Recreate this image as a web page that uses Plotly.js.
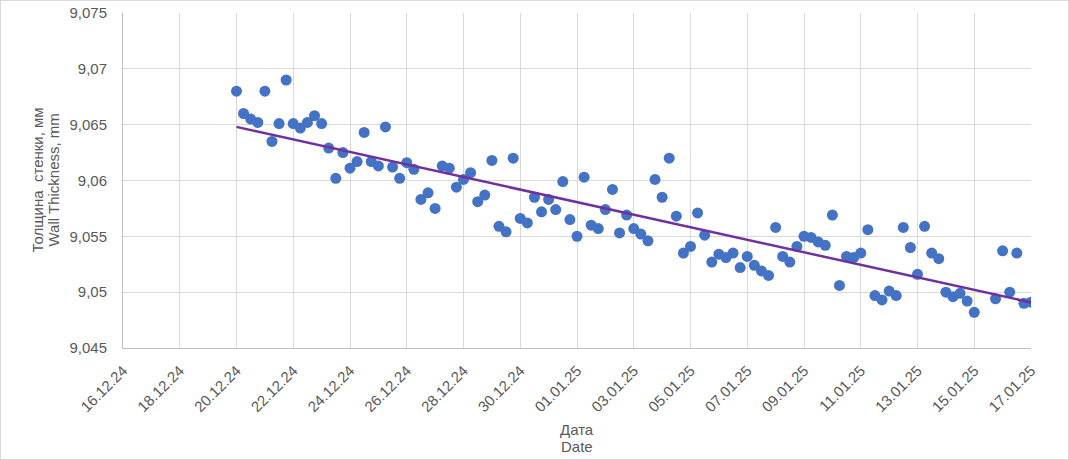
<!DOCTYPE html>
<html>
<head>
<meta charset="utf-8">
<script src="https://cdn.plot.ly/plotly-3.0.1.min.js"></script>
<style>
    body { margin: 0; background: #ffffff; }
    #canvas { width: 1069px; height: 460px; box-sizing: border-box; border: 1px solid #d9d9d9; }
</style>
</head>
<body>
<div id="canvas"></div>
<script>
// measurement times (every 6 h, two readings missing on 15.01.25)
const measureTimes = [
    "2024-12-20 00:00", "2024-12-20 06:00", "2024-12-20 12:00", "2024-12-20 18:00",
    "2024-12-21 00:00", "2024-12-21 06:00", "2024-12-21 12:00", "2024-12-21 18:00",
    "2024-12-22 00:00", "2024-12-22 06:00", "2024-12-22 12:00", "2024-12-22 18:00",
    "2024-12-23 00:00", "2024-12-23 06:00", "2024-12-23 12:00", "2024-12-23 18:00",
    "2024-12-24 00:00", "2024-12-24 06:00", "2024-12-24 12:00", "2024-12-24 18:00",
    "2024-12-25 00:00", "2024-12-25 06:00", "2024-12-25 12:00", "2024-12-25 18:00",
    "2024-12-26 00:00", "2024-12-26 06:00", "2024-12-26 12:00", "2024-12-26 18:00",
    "2024-12-27 00:00", "2024-12-27 06:00", "2024-12-27 12:00", "2024-12-27 18:00",
    "2024-12-28 00:00", "2024-12-28 06:00", "2024-12-28 12:00", "2024-12-28 18:00",
    "2024-12-29 00:00", "2024-12-29 06:00", "2024-12-29 12:00", "2024-12-29 18:00",
    "2024-12-30 00:00", "2024-12-30 06:00", "2024-12-30 12:00", "2024-12-30 18:00",
    "2024-12-31 00:00", "2024-12-31 06:00", "2024-12-31 12:00", "2024-12-31 18:00",
    "2025-01-01 00:00", "2025-01-01 06:00", "2025-01-01 12:00", "2025-01-01 18:00",
    "2025-01-02 00:00", "2025-01-02 06:00", "2025-01-02 12:00", "2025-01-02 18:00",
    "2025-01-03 00:00", "2025-01-03 06:00", "2025-01-03 12:00", "2025-01-03 18:00",
    "2025-01-04 00:00", "2025-01-04 06:00", "2025-01-04 12:00", "2025-01-04 18:00",
    "2025-01-05 00:00", "2025-01-05 06:00", "2025-01-05 12:00", "2025-01-05 18:00",
    "2025-01-06 00:00", "2025-01-06 06:00", "2025-01-06 12:00", "2025-01-06 18:00",
    "2025-01-07 00:00", "2025-01-07 06:00", "2025-01-07 12:00", "2025-01-07 18:00",
    "2025-01-08 00:00", "2025-01-08 06:00", "2025-01-08 12:00", "2025-01-08 18:00",
    "2025-01-09 00:00", "2025-01-09 06:00", "2025-01-09 12:00", "2025-01-09 18:00",
    "2025-01-10 00:00", "2025-01-10 06:00", "2025-01-10 12:00", "2025-01-10 18:00",
    "2025-01-11 00:00", "2025-01-11 06:00", "2025-01-11 12:00", "2025-01-11 18:00",
    "2025-01-12 00:00", "2025-01-12 06:00", "2025-01-12 12:00", "2025-01-12 18:00",
    "2025-01-13 00:00", "2025-01-13 06:00", "2025-01-13 12:00", "2025-01-13 18:00",
    "2025-01-14 00:00", "2025-01-14 06:00", "2025-01-14 12:00", "2025-01-14 18:00",
    "2025-01-15 00:00", "2025-01-15 18:00",
    "2025-01-16 00:00", "2025-01-16 06:00", "2025-01-16 12:00", "2025-01-16 18:00",
    "2025-01-17 00:00"
];

// wall thickness, mm
const wallThickness = [
    9.0680, 9.0660, 9.0655, 9.0652, 9.0680, 9.0635, 9.0651, 9.0690,
    9.0651, 9.0647, 9.0652, 9.0658, 9.0651, 9.0629, 9.0602, 9.0625,
    9.0611, 9.0617, 9.0643, 9.0617, 9.0613, 9.0648, 9.0612, 9.0602,
    9.0616, 9.0610, 9.0583, 9.0589, 9.0575, 9.0613, 9.0611, 9.0594,
    9.0601, 9.0607, 9.0581, 9.0587, 9.0618, 9.0559, 9.0554, 9.0620,
    9.0566, 9.0562, 9.0585, 9.0572, 9.0583, 9.0574, 9.0599, 9.0565,
    9.0550, 9.0603, 9.0560, 9.0557, 9.0574, 9.0592, 9.0553, 9.0569,
    9.0557, 9.0552, 9.0546, 9.0601, 9.0585, 9.0620, 9.0568, 9.0535,
    9.0541, 9.0571, 9.0551, 9.0527, 9.0534, 9.0531, 9.0535, 9.0522,
    9.0532, 9.0524, 9.0519, 9.0515, 9.0558, 9.0532, 9.0527, 9.0541,
    9.0550, 9.0549, 9.0545, 9.0542, 9.0569, 9.0506, 9.0532, 9.0531,
    9.0535, 9.0556, 9.0497, 9.0493, 9.0501, 9.0497, 9.0558, 9.0540,
    9.0516, 9.0559, 9.0535, 9.0530, 9.0500, 9.0496, 9.0499, 9.0492,
    9.0482, 9.0494, 9.0537, 9.0500, 9.0535, 9.0490, 9.0491
];

// axis ticks
const xTickVals = ["2024-12-16", "2024-12-18", "2024-12-20", "2024-12-22", "2024-12-24",
    "2024-12-26", "2024-12-28", "2024-12-30", "2025-01-01", "2025-01-03", "2025-01-05",
    "2025-01-07", "2025-01-09", "2025-01-11", "2025-01-13", "2025-01-15", "2025-01-17"];
const xTickText = ["16.12.24", "18.12.24", "20.12.24", "22.12.24", "24.12.24",
    "26.12.24", "28.12.24", "30.12.24", "01.01.25", "03.01.25", "05.01.25",
    "07.01.25", "09.01.25", "11.01.25", "13.01.25", "15.01.25", "17.01.25"];
const yTickVals = [9.045, 9.05, 9.055, 9.06, 9.065, 9.07, 9.075];
const yTickText = ["9,045", "9,05", "9,055", "9,06", "9,065", "9,07", "9,075"];

const xTitleLines = ["Дата", "Date"];
const yTitleLines = ["Толщина  стенки, мм", "Wall Thickness, mm"];

const FONT = "Liberation Sans, Arial, sans-serif";
const TEXT_COLOR = "#595959";

// "2024-12-20 06:00" -> hours since epoch
function toHours(s) {
    let [d, h] = s.split(" ");
    let [yy, mm, dd] = d.split("-").map(Number);
    let [hh, mi] = h.split(":").map(Number);
    return Date.UTC(yy, mm - 1, dd, hh, mi) / 3600000;
}

// linear trend (least squares over time), like the spreadsheet trendline
function linearTrend(xs, ys) {
    let t = xs.map(toHours);
    let n = Math.min(t.length, ys.length);
    let t0 = t[0];
    let mx = 0, my = 0;
    for (let i = 0; i < n; i++) { mx += t[i] - t0; my += ys[i]; }
    mx /= n; my /= n;
    let sxy = 0, sxx = 0;
    for (let i = 0; i < n; i++) {
        sxy += (t[i] - t0 - mx) * (ys[i] - my);
        sxx += (t[i] - t0 - mx) ** 2;
    }
    let k = sxy / sxx;
    let b = my - k * mx;
    return [b, k * (t[n - 1] - t0) + b];
}

let trend = linearTrend(measureTimes, wallThickness);

var getPlotData = () => [
    {
        x: measureTimes,
        y: wallThickness,
        type: "scatter",
        mode: "markers",
        marker: { color: "#4472C4", size: 11 },
    },
    {
        x: [measureTimes[0], measureTimes[measureTimes.length - 1]],
        y: trend,
        type: "scatter",
        mode: "lines",
        line: { color: "#7030A0", width: 2.5 },
    },
];

var titleFont = { family: FONT, size: 15, color: TEXT_COLOR };

var getAnnotations = () => [
    // x title, two lines below the tick labels
    { text: xTitleLines[0], xref: "paper", yref: "paper", x: 0.5, y: 0, yanchor: "middle", yshift: -81, showarrow: false, font: titleFont },
    { text: xTitleLines[1], xref: "paper", yref: "paper", x: 0.5, y: 0, yanchor: "middle", yshift: -98, showarrow: false, font: titleFont },
    // y title, two rotated lines
    { text: yTitleLines[0], xref: "paper", yref: "paper", x: 0, y: 0.5, xanchor: "center", xshift: -86, textangle: -90, showarrow: false, font: titleFont },
    { text: yTitleLines[1], xref: "paper", yref: "paper", x: 0, y: 0.5, xanchor: "center", xshift: -70, textangle: -90, showarrow: false, font: titleFont },
];

var getPlotLayout = () => ({
    width: 1067,
    height: 458,
    margin: { l: 122, r: 37, t: 12, b: 111 },
    paper_bgcolor: "#ffffff",
    plot_bgcolor: "#ffffff",
    showlegend: false,
    font: { family: FONT, size: 15, color: TEXT_COLOR },
    annotations: getAnnotations(),
    xaxis: {
        type: "date",
        range: ["2024-12-16", "2025-01-17"],
        tickmode: "array",
        tickvals: xTickVals,
        ticktext: xTickText,
        tickangle: -45,
        tickfont: { family: FONT, size: 15, color: TEXT_COLOR },
        ticklabelstandoff: 7,
        showgrid: true,
        gridcolor: "#d9d9d9",
        gridwidth: 1,
        showline: true,
        linecolor: "#bfbfbf",
        linewidth: 1,
        zeroline: false,
        ticks: "",
    },
    yaxis: {
        range: [9.045, 9.075],
        tickmode: "array",
        tickvals: yTickVals,
        ticktext: yTickText,
        tickfont: { family: FONT, size: 15, color: TEXT_COLOR },
        ticklabelstandoff: 12,
        showgrid: true,
        gridcolor: "#d9d9d9",
        gridwidth: 1,
        showline: true,
        linecolor: "#bfbfbf",
        linewidth: 1,
        zeroline: false,
        ticks: "",
    },
});

Plotly.newPlot("canvas", getPlotData(), getPlotLayout(), { displayModeBar: false, staticPlot: true });
</script>
</body>
</html>
